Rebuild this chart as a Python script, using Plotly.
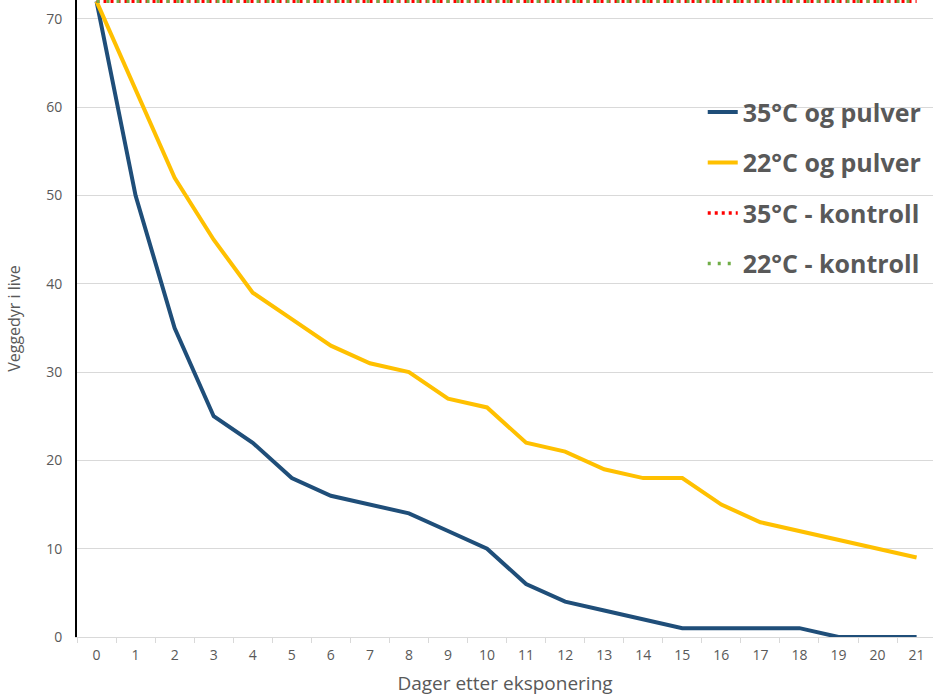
import plotly.graph_objects as go

# Days after exposure
days = list(range(22))

# Surviving bedbugs per day
pulver_35 = [72, 50, 35, 25, 22, 18, 16, 15, 14, 12, 10, 6, 4, 3, 2, 1, 1, 1, 1, 0, 0, 0]
pulver_22 = [72, 62, 52, 45, 39, 36, 33, 31, 30, 27, 26, 22, 21, 19, 18, 18, 15, 13, 12, 11, 10, 9]
kontroll_35 = [72] * 22
kontroll_22 = [72] * 22

series = [
    ("35°C og pulver", pulver_35, "#1f4e79", "solid", 4),
    ("22°C og pulver", pulver_22, "#ffc000", "solid", 4),
    ("35°C - kontroll", kontroll_35, "#ff0000", "3px,4px", 3.5),
    ("22°C - kontroll", kontroll_22, "#70ad47", "3px,7px", 3.5),
]

fig = go.Figure()
for i, (name, vals, color, dash, width) in enumerate(series):
    fig.add_trace(go.Scatter(
        x=[str(d) for d in days],
        y=vals,
        name=name,
        mode="lines",
        line=dict(color=color, dash=dash, width=width),
        legendgroup=f"g{i}",
    ))

fig.update_layout(
    width=933,
    height=696,
    margin=dict(l=77, r=0, t=0, b=59),
    plot_bgcolor="white",
    paper_bgcolor="white",
    font=dict(family="Open Sans, Liberation Sans, sans-serif", color="#595959"),
    showlegend=True,
    legend=dict(
        x=0.731, y=0.860, xanchor="left", yanchor="top",
        font=dict(size=25, color="#595959", family="Open Sans, sans-serif", weight="bold"),
        tracegroupgap=15,
        bgcolor="rgba(255,255,255,0)",
    ),
    xaxis=dict(
        type="category",
        range=[-0.5, 21.42],
        automargin=False,
        tickson="boundaries",
        ticks="outside",
        ticklen=5,
        tickcolor="#d9d9d9",
        ticklabelstandoff=5,
        showline=True,
        linecolor="#d9d9d9",
        linewidth=1,
        showgrid=False,
        tickfont=dict(size=14, color="#595959"),
        title=dict(text="Dager etter eksponering", font=dict(size=19, color="#595959"), standoff=20),
    ),
    yaxis=dict(
        range=[0, 72.15],
        automargin=False,
        tickvals=[0, 10, 20, 30, 40, 50, 60, 70],
        showgrid=True,
        gridcolor="#d9d9d9",
        gridwidth=1,
        zeroline=False,
        showline=True,
        linecolor="black",
        linewidth=2,
        ticks="",
        ticklabelstandoff=10,
        tickfont=dict(size=14, color="#595959"),
        title=dict(text="Veggedyr i live", font=dict(size=16, color="#595959"), standoff=22),
    ),
)

fig.write_html("out.html", config={"displayModeBar": False},
               post_script="document.body.style.margin='0';")
